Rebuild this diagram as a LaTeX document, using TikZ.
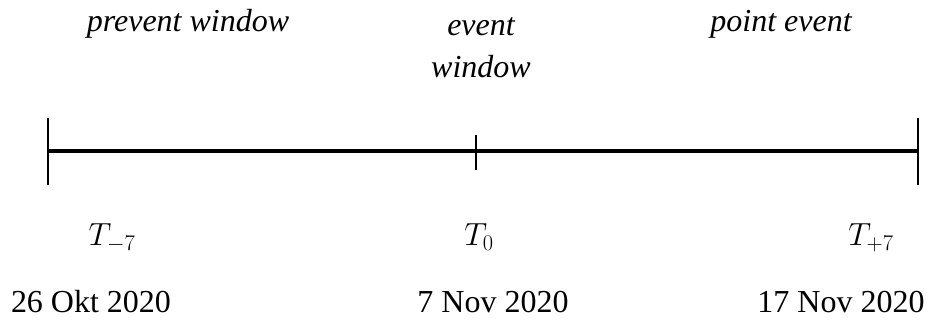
\RequirePackage{fix-cm}
\documentclass[tikz,border=0pt]{standalone}
\usepackage{fontspec}
\setmainfont{Liberation Serif}
\usepackage{tikz}
\usetikzlibrary{positioning,calc}

\begin{document}
\begin{tikzpicture}[x=1pt,y=1pt,font=\fontsize{32}{42}\selectfont]
  \useasboundingbox (0,0) rectangle (927,320);
  % time axis
  \coordinate (tminus) at (48,169);
  \coordinate (tzero) at (476,169);
  \coordinate (tplus) at (918,169);
  \draw[line width=4pt] (tminus) -- (tplus);
  \draw[line width=2.5pt] ([yshift=33]tminus) -- ([yshift=-34]tminus);
  \draw[line width=2.5pt] ([yshift=16]tzero) -- ([yshift=-19]tzero);
  \draw[line width=2.5pt] ([yshift=33]tplus) -- ([yshift=-34]tplus);
  % windows
  \node[anchor=base] (prevwin) at (188,288) {\itshape prevent window};
  \node[anchor=base, align=center] (evwin) at (481,242) {\itshape event\\\itshape window};
  \node[anchor=base] (pointev) at (781,288) {\itshape point event};
  % days
  \node[anchor=base] (lminus) at (112,74) {$T_{-7}$};
  \node[anchor=base] (lzero) at (479,74) {$T_{0}$};
  \node[anchor=base] (lplus) at (871,74) {$T_{+7}$};
  % dates
  \node[anchor=base] (dminus) at (91,7) {26 Okt 2020};
  \node[anchor=base] (dzero) at (493,7) {7 Nov 2020};
  \node[anchor=base] (dplus) at (841,7) {17 Nov 2020};
\end{tikzpicture}
\end{document}
